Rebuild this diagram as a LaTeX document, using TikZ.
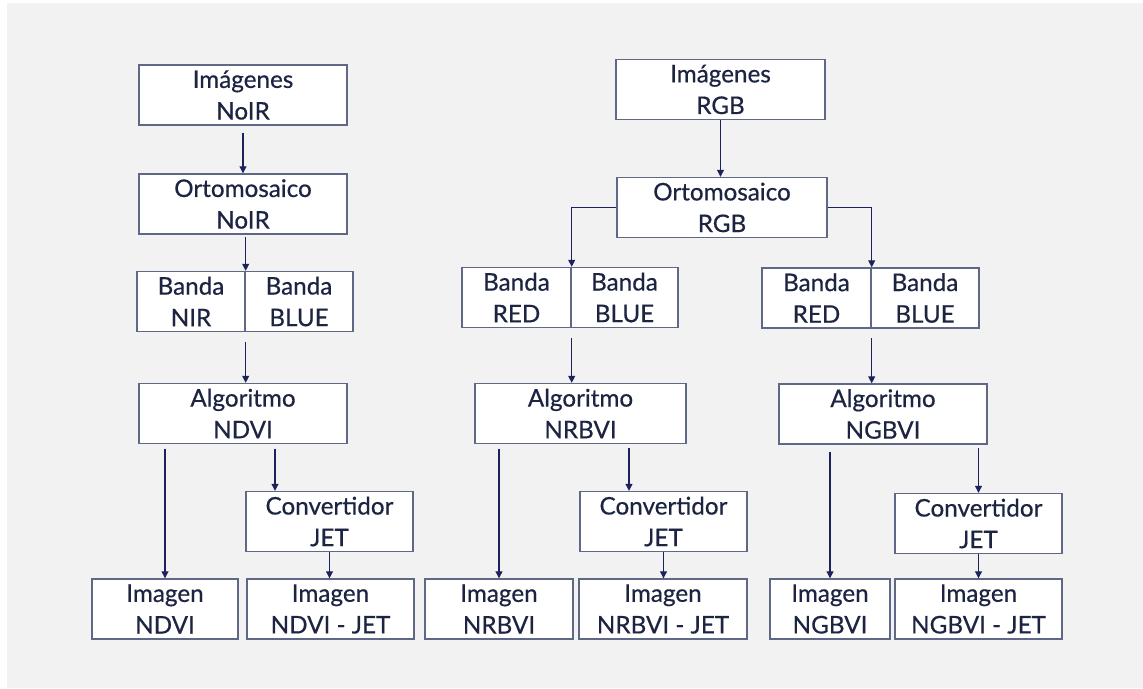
\documentclass[tikz,border=0pt]{standalone}
\usepackage{fontspec}
\setmainfont{Lato}
\newfontfamily\cajafont{Lato}[FakeBold=0.5]
\usetikzlibrary{arrows.meta}
\definecolor{fondo}{RGB}{242,242,242}
\definecolor{borde}{RGB}{95,105,135}
\definecolor{tinta}{RGB}{28,36,66}
\definecolor{flecha}{RGB}{30,34,92}
\begin{document}
\begin{tikzpicture}[x=0.02cm,y=-0.02cm]
  \tikzstyle{caja}=[draw=borde,line width=0.8pt,fill=white,text=tinta,align=center,inner sep=0pt,minimum height=1.2cm,font=\cajafont\fontsize{13.8}{18}\selectfont]
  \tikzstyle{line} = [draw=flecha, line width=0.6pt, -{Triangle[width=4pt,length=4pt]}]
  % background
  \useasboundingbox (0,0) rectangle (1143,689);
  \fill[white] (0,0) rectangle (1143,689);
  \fill[fondo] (7,3) rectangle (1143,688);
  % NoIR
  \node[caja, minimum width=4.16cm] (imgN) at (243,95) {Imágenes\\NoIR};
  \node[caja, minimum width=4.16cm] (ortN) at (243,204) {Ortomosaico\\NoIR};
  \node[caja, minimum width=2.16cm] (nir) at (191,301.5) {Banda\\NIR};
  \node[caja, minimum width=2.16cm] (blueN) at (299,301.5) {Banda\\BLUE};
  \node[caja, minimum width=4.16cm] (algN) at (243,413.5) {Algoritmo\\NDVI};
  \node[caja, minimum width=3.34cm] (convN) at (329.5,521.5) {Convertidor\\JET};
  \node[caja, minimum width=2.92cm] (imgNDVI) at (165,609) {Imagen\\NDVI};
  \node[caja, minimum width=3.34cm] (jetN) at (330.5,609) {Imagen\\NDVI - JET};
  % RGB
  \node[caja, minimum width=4.18cm] (imgR) at (720.5,89.5) {Imágenes\\RGB};
  \node[caja, minimum width=4.2cm] (ortR) at (722,207.5) {Ortomosaico\\RGB};
  % RGB, NRBVI
  \node[caja, minimum width=2.18cm] (redM) at (516.5,297.5) {Banda\\RED};
  \node[caja, minimum width=2.14cm] (blueM) at (624.5,297.5) {Banda\\BLUE};
  \node[caja, minimum width=4.22cm] (algR) at (580.5,413.5) {Algoritmo\\NRBVI};
  \node[caja, minimum width=3.34cm] (convR) at (663.5,521.5) {Convertidor\\JET};
  \node[caja, minimum width=2.96cm] (imgNRBVI) at (499,609) {Imagen\\NRBVI};
  \node[caja, minimum width=3.36cm] (jetR) at (663,609) {Imagen\\NRBVI - JET};
  % RGB, NGBVI
  \node[caja, minimum width=2.18cm] (redG) at (816.5,298) {Banda\\RED};
  \node[caja, minimum width=2.16cm] (blueG) at (925,298) {Banda\\BLUE};
  \node[caja, minimum width=4.16cm] (algG) at (883,414) {Algoritmo\\NGBVI};
  \node[caja, minimum width=3.34cm] (convG) at (978.5,523.5) {Convertidor\\JET};
  \node[caja, minimum width=2.4cm] (imgNGBVI) at (830,609) {Imagen\\NGBVI};
  \node[caja, minimum width=3.34cm] (jetG) at (978.5,609) {Imagen\\NGBVI - JET};
  % where the arrows to the converters fall
  \coordinate (xN) at (275,0);
  \coordinate (xR) at (629,0);
  % arrows
  \draw[line, shorten <=4pt] (imgN.south) -- (ortN.north);
  \draw[line, shorten <=1.5pt] (ortN.south -| nir.north east) -- (nir.north east);
  \draw[line, shorten <=5.5pt] (nir.south east) -- (algN.north -| nir.south east);
  \draw[line, shorten <=2.5pt] (algN.south -| imgNDVI.north) -- (imgNDVI.north);
  \draw[line, shorten <=2.5pt] (algN.south -| xN) -- (convN.north -| xN);
  \draw[line] (convN.south) -- (convN.south |- jetN.north);
  \draw[line] (imgR.south) -- (imgR.south |- ortR.north);
  \draw[line] (ortR.west) -| (redM.north east);
  \draw[line] (ortR.east) -| (redG.north east);
  \draw[line, shorten <=5.5pt] (redM.south east) -- (algR.north -| redM.south east);
  \draw[line, shorten <=2.5pt] (algR.south -| imgNRBVI.north) -- (imgNRBVI.north);
  \draw[line, shorten <=2pt] (algR.south -| xR) -- (convR.north -| xR);
  \draw[line] (convR.south) -- (convR.south |- jetR.north);
  \draw[line, shorten <=5.5pt] (redG.south east) -- (algG.north -| redG.south east);
  \draw[line, shorten <=4pt] (algG.south -| imgNGBVI.north) -- (imgNGBVI.north);
  \draw[line, shorten <=2pt] (algG.south -| convG.north) -- (convG.north);
  \draw[line] (convG.south) -- (jetG.north);
\end{tikzpicture}
\end{document}
